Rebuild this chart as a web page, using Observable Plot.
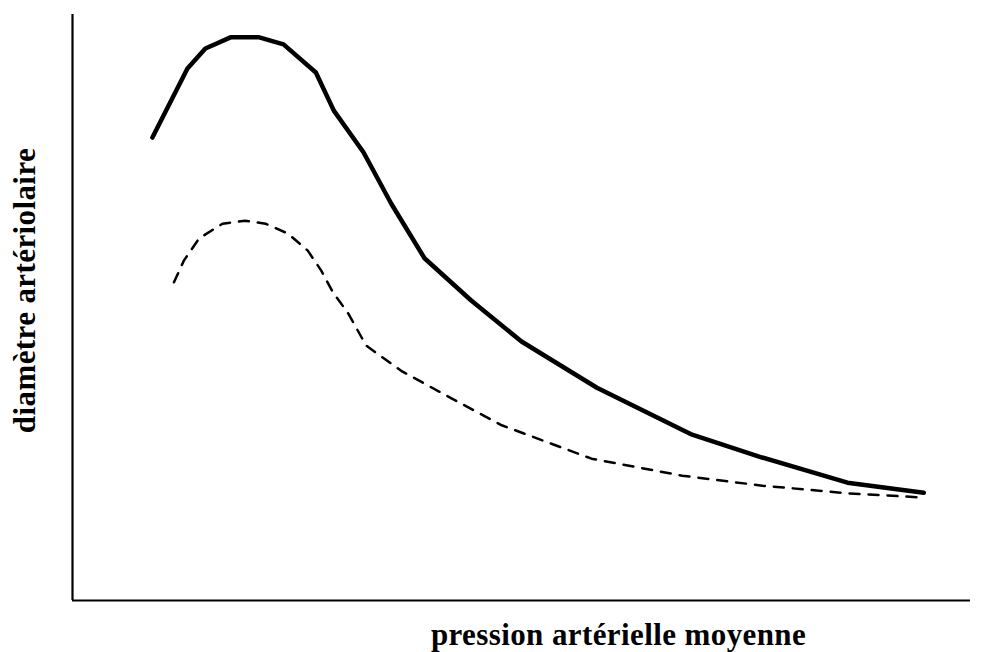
<!DOCTYPE html>
<html>
<head>
<meta charset="utf-8">
<script src="https://cdn.jsdelivr.net/npm/d3@7"></script>
<script src="https://cdn.jsdelivr.net/npm/@observablehq/plot@0.6"></script>
<style>
  html, body { margin: 0; padding: 0; background: #fff; }
  #chart { width: 985px; height: 652px; }
  #chart text { letter-spacing: 0.4px; }
</style>
</head>
<body>
<div id="chart"></div>
<script>
// Solid curve (pression, diamètre) in arbitrary units 0–100
const solidX = [8.9, 12.8, 14.8, 17.6, 20.8, 23.5, 27.1, 29.1, 32.4, 35.5, 39.2, 44.4, 50.0, 58.4, 69.0, 76.8, 86.3, 94.8];
const solidY = [79.0, 90.8, 94.2, 96.1, 96.1, 94.9, 90.1, 83.6, 76.5, 67.7, 58.4, 51.2, 44.2, 36.3, 28.3, 24.4, 20.1, 18.4];

// Dashed curve
const dashX = [11.3, 12.4, 14.1, 16.7, 19.2, 21.5, 24.0, 26.2, 27.7, 29.0, 30.7, 32.7, 36.6, 42.2, 47.8, 57.8, 67.9, 76.8, 86.3, 94.4];
const dashY = [54.3, 58.0, 61.8, 64.3, 64.8, 64.3, 62.6, 59.7, 56.3, 52.6, 49.0, 43.5, 39.2, 34.5, 29.9, 24.2, 21.3, 19.6, 18.3, 17.6];

const xLabel = "pression artérielle moyenne";
const yLabel = "diamètre artériolaire";

const solid = solidX.map((x, i) => ({x, y: solidY[i]}));
const dashed = dashX.map((x, i) => ({x, y: dashY[i]}));

const font = "'Liberation Serif', 'Times New Roman', serif";

const chart = Plot.plot({
  width: 985,
  height: 652,
  marginLeft: 72,
  marginRight: 15,
  marginTop: 14,
  marginBottom: 52,
  style: {background: "#fff", fontFamily: font},
  x: {domain: [0, 100], axis: null},
  y: {domain: [0, 100], axis: null},
  marks: [
    Plot.ruleY([0], {stroke: "#000", strokeWidth: 2.2}),
    Plot.ruleX([0], {stroke: "#000", strokeWidth: 2.2}),
    Plot.line(solid, {x: "x", y: "y", stroke: "#000", strokeWidth: 4.5, strokeLinejoin: "round", strokeLinecap: "round"}),
    Plot.line(dashed, {x: "x", y: "y", stroke: "#000", strokeWidth: 2.5, strokeDasharray: "10,9"}),
    Plot.text([xLabel], {text: d => d, frameAnchor: "bottom", dx: 97, dy: 44, fontSize: 31, fontWeight: "bold", fontFamily: font, fill: "#000", textAnchor: "middle"}),
    Plot.text([yLabel], {text: d => d, frameAnchor: "left", dx: -47, dy: -17, rotate: -90, fontSize: 31, fontWeight: "bold", fontFamily: font, fill: "#000", textAnchor: "middle"})
  ]
});
document.getElementById("chart").appendChild(chart);
</script>
</body>
</html>
